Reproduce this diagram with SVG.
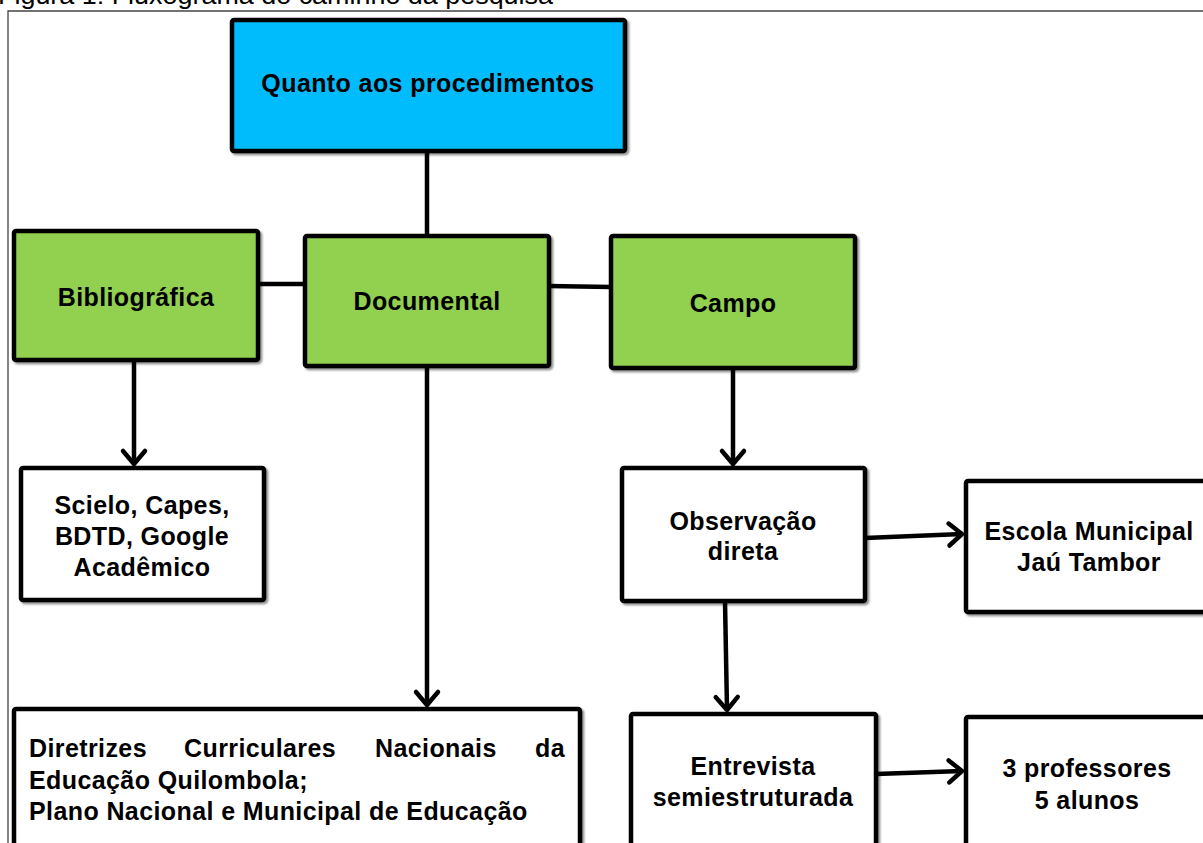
<svg xmlns="http://www.w3.org/2000/svg" width="1203" height="843" viewBox="0 0 1203 843">
<style>
.box{stroke:#000;stroke-width:4.5;filter:url(#sh)}
.blue{fill:#05BCFC}
.green{fill:#92D050}
.white{fill:#fff}
.t{font-family:"Liberation Sans",Arial,sans-serif;font-weight:bold;font-size:25px;letter-spacing:0.4px;fill:#000;text-anchor:middle}
.tl{font-family:"Liberation Sans",Arial,sans-serif;font-weight:bold;font-size:25px;letter-spacing:0.4px;fill:#000}
.c{stroke:#000;stroke-width:4.5;fill:none}
.a{marker-end:url(#ah)}
</style>
<defs>
<filter id="sh" x="-5%" y="-5%" width="115%" height="115%">
<feDropShadow dx="2" dy="2" stdDeviation="1.2" flood-color="#000" flood-opacity="0.45"/>
</filter>
<marker id="ah" markerUnits="userSpaceOnUse" markerWidth="40" markerHeight="40" refX="0" refY="0" viewBox="-20 -20 40 40" orient="auto" overflow="visible">
<path d="M-13,-11 L0,0 L-13,11" fill="none" stroke="#000" stroke-width="4.5" stroke-linecap="round" stroke-linejoin="round"/>
</marker>
</defs>
<rect width="1203" height="843" fill="#fff"/>
<text x="-2" y="4" font-family="Liberation Sans,Arial,sans-serif" font-size="25" fill="#000" textLength="555" lengthAdjust="spacingAndGlyphs">Figura 1: Fluxograma do caminho da pesquisa</text>
<path d="M8,843 V11 H1203" fill="none" stroke="#444" stroke-width="1.3"/>

<g id="connectors">
<path class="c" d="M427,151 V236"/>
<path class="c" d="M258,284 H305"/>
<path class="c" d="M549,286 L611,287"/>
<path class="c a" d="M134,360 V464"/>
<path class="c a" d="M427,366 V705"/>
<path class="c a" d="M733,368 V464"/>
<path class="c a" d="M865,538 L962,534"/>
<path class="c a" d="M725,601 L727,710"/>
<path class="c a" d="M876,774 L962,771"/>
</g>

<g id="n-quanto">
<rect class="box blue" x="232" y="20" width="393" height="131" rx="2"/>
<text class="t" x="428" y="92">Quanto aos procedimentos</text>
</g>
<g id="n-bibliografica">
<rect class="box green" x="14" y="231" width="244" height="129" rx="2"/>
<text class="t" x="136" y="306">Bibliográfica</text>
</g>
<g id="n-documental">
<rect class="box green" x="305" y="236" width="244" height="130" rx="2"/>
<text class="t" x="427" y="310">Documental</text>
</g>
<g id="n-campo">
<rect class="box green" x="611" y="236" width="244" height="132" rx="2"/>
<text class="t" x="733" y="312">Campo</text>
</g>
<g id="n-scielo">
<rect class="box white" x="21" y="468" width="243" height="132" rx="2"/>
<text class="t" x="142" y="514">Scielo, Capes,</text>
<text class="t" x="142" y="545">BDTD, Google</text>
<text class="t" x="142" y="576">Acadêmico</text>
</g>
<g id="n-diretrizes">
<rect class="box white" x="14" y="709" width="566" height="160" rx="2"/>
<text class="tl" y="757"><tspan x="29">Diretrizes</tspan><tspan x="184">Curriculares</tspan><tspan x="375">Nacionais</tspan><tspan x="535">da</tspan></text>
<text class="tl" x="29" y="789">Educação Quilombola;</text>
<text class="tl" x="29" y="820">Plano Nacional e Municipal de Educação</text>
</g>
<g id="n-observacao">
<rect class="box white" x="622" y="468" width="243" height="133" rx="2"/>
<text class="t" x="743" y="530">Observação</text>
<text class="t" x="743" y="560">direta</text>
</g>
<g id="n-escola">
<rect class="box white" x="966" y="481" width="260" height="131" rx="2"/>
<text class="t" x="1089" y="540">Escola Municipal</text>
<text class="t" x="1089" y="571">Jaú Tambor</text>
</g>
<g id="n-entrevista">
<rect class="box white" x="631" y="714" width="245" height="160" rx="2"/>
<text class="t" x="753" y="775">Entrevista</text>
<text class="t" x="753" y="806">semiestruturada</text>
</g>
<g id="n-professores">
<rect class="box white" x="966" y="717" width="260" height="160" rx="2"/>
<text class="t" x="1087" y="777">3 professores</text>
<text class="t" x="1087" y="809">5 alunos</text>
</g>
</svg>
